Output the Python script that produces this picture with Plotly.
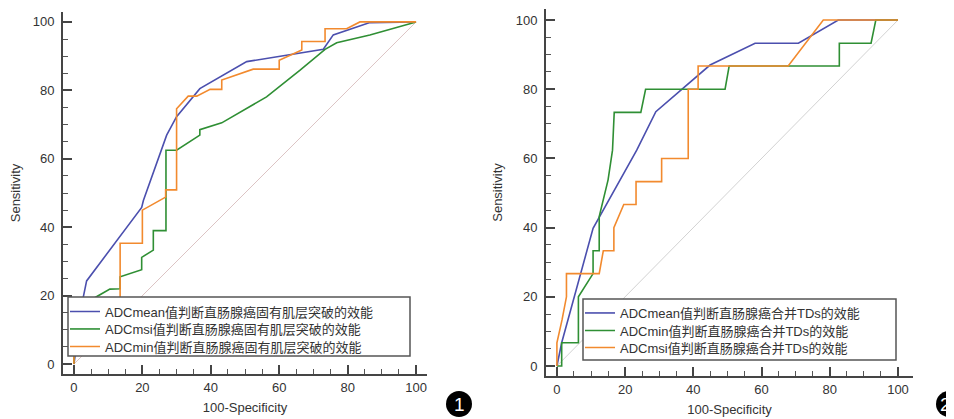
import plotly.graph_objects as go

# the page body has an 8px margin; figure coordinates are shifted to compensate
OFF = 8
W, H = 954 - OFF, 419 - OFF

# ---------------- data: panel 1 ----------------
p1_mean_x = [0, 1.2, 2.7, 3.7, 19.8, 20.3, 27.1, 30.0, 36.8, 50.5, 72.9, 75.8, 86.5, 100]
p1_mean_y = [0, 9, 19.4, 24.3, 45.8, 47.8, 66.9, 72.3, 80.5, 88.4, 92.0, 96.2, 99.8, 100]

p1_msi_x = [0, 0, 3, 3, 6.1, 10.5, 13.5, 13.5, 19.8, 19.8, 23.2, 23.2, 26.9, 26.9, 30.0,
            36.8, 36.8, 43.2, 56.3, 66.1, 73.4, 76.8, 86.5, 100]
p1_msi_y = [0, 4, 4, 15, 19.4, 21.9, 22.0, 25.5, 27.6, 31.2, 33.3, 39.0, 39.0, 62.5, 62.5,
            66.9, 68.5, 70.5, 78.1, 85.9, 92.0, 93.9, 96.2, 100]

p1_min_x = [0, 0, 4, 4, 13.5, 13.5, 20.0, 20.0, 26.8, 26.8, 30.0, 30.0, 33.4, 35.9, 39.8,
            43.2, 43.2, 52.4, 60.0, 60.0, 66.6, 66.6, 73.4, 73.4, 79.7, 83.6, 100]
p1_min_y = [0, 4, 4, 10, 17, 35.3, 35.3, 45.0, 48.8, 50.9, 50.9, 74.6, 78.3, 78.3, 80.3,
            80.3, 83.0, 86.2, 86.2, 88.8, 91.8, 94.3, 94.3, 98.0, 98.0, 100, 100]

p1_names = ["ADCmean值判断直肠腺癌固有肌层突破的效能",
            "ADCmsi值判断直肠腺癌固有肌层突破的效能",
            "ADCmin值判断直肠腺癌固有肌层突破的效能"]

# ---------------- data: panel 2 ----------------
p2_mean_x = [0, 1.4, 10.6, 23.4, 29.0, 44.9, 58.1, 70.8, 82.5, 100]
p2_mean_y = [0, 6.7, 39.8, 62.4, 73.5, 87.0, 93.3, 93.3, 100, 100]

p2_min_x = [0, 1.4, 1.4, 6.3, 6.3, 10.6, 10.6, 12.4, 12.4, 15.0, 16.3, 16.8, 24.6, 26.0,
            49.3, 50.5, 82.8, 82.8, 92.1, 93.5, 100]
p2_min_y = [0, 0, 6.7, 6.7, 20.0, 26.7, 33.3, 33.3, 43.2, 53.8, 62.4, 73.3, 73.3, 80.0,
            80.0, 86.7, 86.7, 93.3, 93.3, 100, 100]

p2_msi_x = [0, 0, 1.5, 2.8, 2.8, 12.4, 13.6, 16.7, 16.7, 19.6, 23.2, 23.2, 30.7, 30.7,
            38.5, 38.5, 41.4, 41.4, 67.8, 78.1, 100]
p2_msi_y = [0, 6.7, 13.3, 20.0, 26.7, 26.7, 33.3, 33.3, 40.0, 46.7, 46.7, 53.3, 53.3, 60.0,
            60.0, 80.0, 80.0, 86.7, 86.7, 100, 100]

p2_names = ["ADCmean值判断直肠腺癌合并TDs的效能",
            "ADCmin值判断直肠腺癌合并TDs的效能",
            "ADCmsi值判断直肠腺癌合并TDs的效能"]

diag = [0, 100]
tickvals = [0, 20, 40, 60, 80, 100]
panel_labels = ["1", "2"]

BLUE = "#4b4fae"
GREEN = "#2f8f34"
ORANGE = "#f28a2e"
FONT = "Liberation Sans, Arial, Noto Sans CJK SC, sans-serif"


def px_x(p):
    return (p - OFF) / W


def px_y(p):
    return 1 - (p - OFF) / H


fig = go.Figure()

# diagonals
fig.add_trace(go.Scatter(x=diag, y=diag, mode="lines", line=dict(color="#dcc4c4", width=1),
                         showlegend=False, hoverinfo="skip", xaxis="x", yaxis="y"))
fig.add_trace(go.Scatter(x=diag, y=diag, mode="lines", line=dict(color="#d2d2d2", width=1),
                         showlegend=False, hoverinfo="skip", xaxis="x2", yaxis="y2"))

# one legend per entry so rows can be spaced like the reference
legend_specs = {}
series = [
    (p1_mean_x, p1_mean_y, p1_names[0], BLUE, "x", "y", 65, 311.5),
    (p1_msi_x, p1_msi_y, p1_names[1], GREEN, "x", "y", 65, 329),
    (p1_min_x, p1_min_y, p1_names[2], ORANGE, "x", "y", 65, 346.5),
    (p2_mean_x, p2_mean_y, p2_names[0], BLUE, "x2", "y2", 580, 313),
    (p2_min_x, p2_min_y, p2_names[1], GREEN, "x2", "y2", 580, 330.5),
    (p2_msi_x, p2_msi_y, p2_names[2], ORANGE, "x2", "y2", 580, 347.5),
]
for i, (xs, ys, nm, col, xa, ya, lx, ly) in enumerate(series):
    key = "legend" if i == 0 else f"legend{i + 1}"
    fig.add_trace(go.Scatter(x=xs, y=ys, mode="lines", name=nm, line=dict(color=col, width=1.6),
                             xaxis=xa, yaxis=ya, legend=key))
    legend_specs[key] = dict(x=px_x(lx), y=px_y(ly), xanchor="left", yanchor="middle",
                             bgcolor="rgba(0,0,0,0)", borderwidth=0,
                             font=dict(size=13, color="#333333", family=FONT))

axis_common = dict(
    showgrid=False, zeroline=False, showline=True, linecolor="#454545", linewidth=2,
    ticks="inside", ticklen=9, tickwidth=1.5, tickcolor="#454545",
    tickvals=tickvals, tickfont=dict(size=13, color="#333333", family=FONT),
    minor=dict(ticks="inside", dtick=5, ticklen=5, tickwidth=1, tickcolor="#555555"),
    fixedrange=True, automargin=False,
)

fig.update_layout(
    width=W, height=H, autosize=False,
    margin=dict(l=0, r=0, t=0, b=0),
    paper_bgcolor="white", plot_bgcolor="white",
    font=dict(family=FONT, size=13, color="#333333"),
    xaxis=dict(axis_common, domain=[px_x(63), px_x(427)], range=[-3.2, 103.2], anchor="y",
               title=dict(text="100-Specificity", standoff=9, font=dict(size=13))),
    yaxis=dict(axis_common, domain=[px_y(374), px_y(12)], range=[-2.9, 102.9], anchor="x",
               ticklabelstandoff=4,
               title=dict(text="Sensitivity", standoff=10, font=dict(size=13))),
    xaxis2=dict(axis_common, domain=[px_x(546), px_x(913)], range=[-3.2, 104.4], anchor="y2",
                title=dict(text="100-Specificity", standoff=9, font=dict(size=13))),
    yaxis2=dict(axis_common, domain=[px_y(376), px_y(9)], range=[-2.9, 103.2], anchor="x2",
                ticklabelstandoff=4,
                title=dict(text="Sensitivity", standoff=10, font=dict(size=13))),
    **legend_specs,
)

# legend boxes
fig.add_shape(type="rect", xref="paper", yref="paper", layer="above",
              x0=px_x(68), x1=px_x(410), y0=px_y(356), y1=px_y(297),
              line=dict(color="#555555", width=1.5), fillcolor="white")
fig.add_shape(type="rect", xref="paper", yref="paper", layer="above",
              x0=px_x(583), x1=px_x(896), y0=px_y(360), y1=px_y(299),
              line=dict(color="#555555", width=1.5), fillcolor="white")

# panel number badges
for cx, tx, lab in [(459, 459, panel_labels[0]), (949, 945, panel_labels[1])]:
    r = 13
    fig.add_shape(type="circle", xref="paper", yref="paper", layer="above",
                  x0=px_x(cx - r), x1=px_x(cx + r), y0=px_y(404 + r), y1=px_y(404 - r),
                  line=dict(color="black", width=0), fillcolor="black")
    fig.add_annotation(x=px_x(tx), y=px_y(404), xref="paper", yref="paper", text=lab,
                       showarrow=False, font=dict(size=19, color="white", family=FONT),
                       xanchor="center", yanchor="middle")

fig.write_html("out.html")
